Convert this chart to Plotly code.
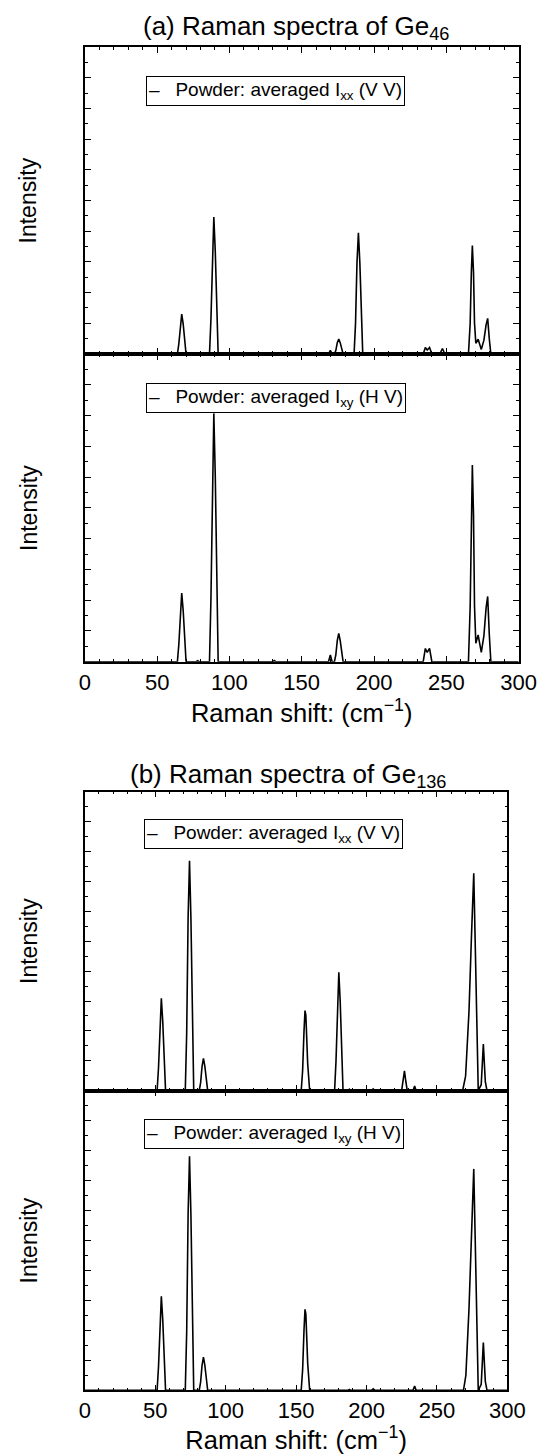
import plotly.graph_objects as go

# ---------------- data ----------------
# (a) Ge46, powder averaged I_xx (V V)
ge46_vv_x = [0, 64, 65, 66, 67, 68, 69, 70, 77, 78, 79,
             86.2, 87.2, 88.2, 89.2, 90.2, 91.2, 92.2, 130, 131, 132,
             168.5, 169.8, 171, 172.6, 173.6, 174.6, 175.6, 176.6, 177.6, 178.6,
             186.2, 187.2, 188.2, 189.2, 190.2, 191.2, 192.2,
             234, 235.5, 236.8, 238.4, 240, 245.5, 247.3, 249,
             265.3, 266.5, 267.3, 268, 268.8, 269.5, 270.4, 272, 274.2, 276, 277.5, 278.6, 279.7, 280.8, 300]
ge46_vv_y = [0, 0, 0.33, 0.98, 1.30, 0.98, 0.33, 0, 0, 0.03, 0,
             0, 1.12, 3.35, 4.46, 3.35, 1.12, 0, 0, 0.04, 0,
             0, 0.12, 0, 0, 0.12, 0.37, 0.49, 0.37, 0.12, 0,
             0, 0.99, 2.96, 3.95, 2.96, 0.99, 0,
             0, 0.21, 0.13, 0.21, 0, 0, 0.18, 0,
             0, 1.0, 2.65, 3.53, 2.65, 1.0, 0.35, 0.48, 0.15, 0.45, 0.95, 1.16, 0.5, 0, 0]

# (a) Ge46, powder averaged I_xy (H V)
ge46_hv_x = [0, 64, 65, 66, 67, 68, 69, 70, 77, 78, 79,
             86.2, 87.2, 88.2, 89.2, 90.2, 91.2, 92.2, 130, 131, 132,
             168.5, 169.8, 171, 172.6, 173.6, 174.6, 175.6, 176.6, 177.6, 178.6,
             234, 235.5, 236.8, 238.4, 240,
             265.3, 266.5, 267.3, 268, 268.8, 269.5, 270.4, 272, 274.2, 276, 277.5, 278.6, 279.7, 280.8, 300]
ge46_hv_y = [0, 0, 0.56, 1.67, 2.23, 1.67, 0.56, 0, 0, 0.03, 0,
             0, 2.02, 6.05, 8.07, 6.05, 2.02, 0, 0, 0.04, 0,
             0, 0.22, 0, 0, 0.23, 0.69, 0.92, 0.69, 0.23, 0,
             0, 0.43, 0.30, 0.43, 0,
             0, 1.8, 4.77, 6.39, 4.77, 1.8, 0.6, 0.87, 0.3, 0.85, 1.75, 2.12, 0.9, 0, 0]

# (b) Ge136, powder averaged I_xx (V V)
ge136_vv_x = [0, 51.3, 52.3, 53.3, 54.3, 55.3, 56.3, 57.3,
              71.3, 72.3, 73.3, 74.3, 75.3, 76.3, 77.3,
              81.2, 82.2, 83.2, 84.2, 85.2, 86.2, 87.2,
              153.6, 154.6, 155.6, 156.3, 156.9, 158.2, 159.6,
              177.3, 178.3, 179.3, 180.3, 181.3, 182.3, 183.3,
              186.8, 187.8, 188.8, 203.5, 204.7, 206,
              224.9, 225.9, 226.9, 227.9, 228.9, 233, 234.1, 235.2,
              268.2, 270.3, 272.7, 274.5, 276.1, 277.1, 278.3, 279.3,
              281.4, 282.9, 284.3, 285.5, 300]
ge136_vv_y = [0, 0, 0.77, 2.32, 3.09, 2.32, 0.77, 0,
              0, 1.92, 5.77, 7.69, 5.77, 1.92, 0,
              0, 0.27, 0.81, 1.08, 0.81, 0.27, 0,
              0, 0.67, 2.0, 2.68, 2.52, 0.9, 0,
              0, 0.99, 2.97, 3.96, 2.97, 0.99, 0,
              0, 0.05, 0, 0, 0.06, 0,
              0, 0.3, 0.66, 0.3, 0, 0, 0.16, 0,
              0, 0.49, 2.64, 5.2, 7.27, 5.0, 1.5, 0,
              0.2, 1.56, 0.3, 0, 0]

# (b) Ge136, powder averaged I_xy (H V)
ge136_hv_x = [0, 51.3, 52.3, 53.3, 54.3, 55.3, 56.3, 57.3,
              71.3, 72.3, 73.3, 74.3, 75.3, 76.3, 77.3,
              81.2, 82.2, 83.2, 84.2, 85.2, 86.2, 87.2,
              153.6, 154.6, 155.6, 156.3, 156.9, 158.2, 159.6,
              186.8, 187.8, 188.8, 203.5, 204.7, 206, 233, 234.1, 235.2,
              268.8, 270.5, 272.7, 274.5, 276.1, 277.1, 278.3, 279.3,
              281.4, 282.9, 284.3, 285.5, 300]
ge136_hv_y = [0, 0, 0.79, 2.36, 3.14, 2.36, 0.79, 0,
              0, 1.95, 5.86, 7.81, 5.86, 1.95, 0,
              0, 0.28, 0.83, 1.11, 0.83, 0.28, 0,
              0, 0.68, 2.02, 2.70, 2.54, 0.9, 0,
              0, 0.03, 0, 0, 0.05, 0, 0, 0.14, 0,
              0, 0.5, 2.7, 5.3, 7.39, 5.1, 1.5, 0,
              0.2, 1.59, 0.3, 0, 0]

panel_titles = ["(a) Raman spectra of Ge<sub>46</sub>", "(b) Raman spectra of Ge<sub>136</sub>"]
legend_texts = ["Powder: averaged I<sub>xx</sub> (V V)", "Powder: averaged I<sub>xy</sub> (H V)"]
x_title = "Raman shift: (cm<sup>\u22121</sup>)"
y_title = "Intensity"
x_tickvals = [0, 50, 100, 150, 200, 250, 300]

# ---------------- figure ----------------
W, H = 557, 1454
FONT = "Liberation Sans, Arial, Helvetica, sans-serif"

def fy(px):
    return 1 - px / H

def fx(px):
    return px / W

series = [
    (ge46_vv_x, ge46_vv_y, "x", "y", legend_texts[0]),
    (ge46_hv_x, ge46_hv_y, "x2", "y2", legend_texts[1]),
    (ge136_vv_x, ge136_vv_y, "x3", "y3", legend_texts[0]),
    (ge136_hv_x, ge136_hv_y, "x4", "y4", legend_texts[1]),
]

fig = go.Figure()
for xs, ys, xa, ya, name in series:
    fig.add_trace(go.Scatter(x=xs, y=ys, mode="lines", xaxis=xa, yaxis=ya,
                             line=dict(color="black", width=1.6),
                             name=name, showlegend=False, hoverinfo="x+y"))

# pixel geometry of the four plot boxes
xa_dom = [fx(82.4), fx(535.7)]
xb_dom = [fx(82.4), fx(524.0)]
ya1 = [fy(354.0), fy(47.0)]
ya2 = [fy(661.7), fy(354.0)]
yb1 = [fy(1090.7), fy(791.7)]
yb2 = [fy(1390.3), fy(1090.7)]

def xaxis(domain, anchor, labels):
    d = dict(domain=domain, anchor=anchor, range=[0, 300], showline=True,
             linecolor="black", linewidth=1.5, mirror="ticks", ticks="inside",
             ticklen=6, tickwidth=1.2, tickcolor="black", tickmode="array",
             tickvals=x_tickvals, showgrid=False, zeroline=False,
             showticklabels=labels, tickfont=dict(size=22, color="black"),
             minor=dict(ticks="inside", ticklen=3, tickwidth=1.2, tickcolor="black",
                        dtick=10, tick0=0, showgrid=False))
    if labels:
        d["title"] = dict(text=x_title, font=dict(size=25.5, color="black"), standoff=5)
    return d

def yaxis(domain, anchor):
    return dict(domain=domain, anchor=anchor, range=[0, 10], showline=True,
                linecolor="black", linewidth=1.5, mirror="ticks", ticks="inside",
                ticklen=6, tickwidth=1.2, tickcolor="black", dtick=1, tick0=0,
                showgrid=False, zeroline=False, showticklabels=False,
                minor=dict(ticks="inside", ticklen=3, tickwidth=1.2, tickcolor="black",
                           dtick=0.5, tick0=0, showgrid=False))

annotations = []
# panel titles
annotations.append(dict(text=panel_titles[0], x=fx(302.8), y=fy(27), xref="paper", yref="paper",
                        xanchor="center", yanchor="middle", showarrow=False,
                        font=dict(size=26, color="black")))
annotations.append(dict(text=panel_titles[1], x=fx(295), y=fy(775), xref="paper", yref="paper",
                        xanchor="center", yanchor="middle", showarrow=False,
                        font=dict(size=26, color="black")))
# y titles
for yc in [200.5, 508, 941, 1240.5]:
    annotations.append(dict(text=y_title, x=fx(24), y=fy(yc), xref="paper", yref="paper",
                            xanchor="center", yanchor="middle", textangle=-90, showarrow=False,
                            font=dict(size=23, color="black")))
# legend boxes
leg_pos = [(146.4, 76.0, legend_texts[0]), (146.4, 383.3, legend_texts[1]),
           (144.6, 819.3, legend_texts[0]), (144.6, 1119.3, legend_texts[1])]
for lx, ly, txt in leg_pos:
    annotations.append(dict(text="\u2013\u00a0\u00a0\u00a0" + txt, x=fx(lx), y=fy(ly),
                            xref="paper", yref="paper", xanchor="left", yanchor="top",
                            showarrow=False, bordercolor="black", borderwidth=1, borderpad=2,
                            bgcolor="white", font=dict(size=19, color="black")))

fig.update_layout(
    width=W, height=H, autosize=False,
    margin=dict(l=0, r=0, t=0, b=0),
    paper_bgcolor="white", plot_bgcolor="white",
    font=dict(family=FONT, color="black"),
    showlegend=False,
    xaxis=xaxis(xa_dom, "y", False),
    yaxis=yaxis(ya1, "x"),
    xaxis2=xaxis(xa_dom, "y2", True),
    yaxis2=yaxis(ya2, "x2"),
    xaxis3=xaxis(xb_dom, "y3", False),
    yaxis3=yaxis(yb1, "x3"),
    xaxis4=xaxis(xb_dom, "y4", True),
    yaxis4=yaxis(yb2, "x4"),
    annotations=annotations,
)

fig.write_html("out.html")
